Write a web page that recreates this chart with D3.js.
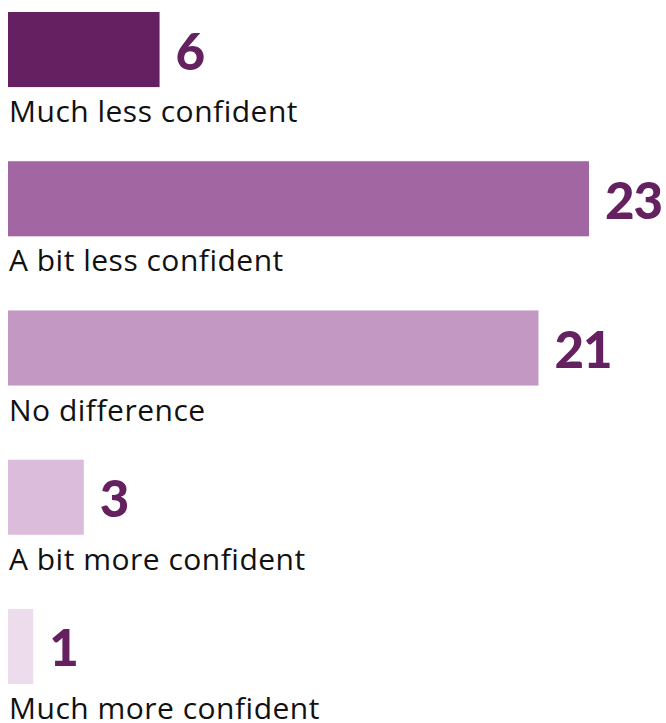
<!doctype html>
<html>
<head>
<meta charset="utf-8">
<style>
  body { margin: 0; background: #fff; }
  svg { display: block; }
</style>
</head>
<body>
<svg></svg>
<script src="https://d3js.org/d3.v7.min.js"></script>
<script>
let categories = ["Much less confident", "A bit less confident", "No difference", "A bit more confident", "Much more confident"];
let values = [6, 23, 21, 3, 1];
let colors = ["#642060", "#a266a2", "#c399c3", "#dbbddb", "#ecdcec"];

let width = 666,
    height = 723;

let svg = d3.select("svg")
    .attr("width", width)
    .attr("height", height);

let x = d3.scaleLinear()
    .domain([0, 23])
    .range([8, 589]);

let y = d3.scaleBand()
    .domain(categories)
    .range([12, 684])
    .paddingInner(0.497);

let data = categories.map((c, i) => ({ cat: c, value: values[i], color: colors[i] }));

let row = svg.selectAll("g.row")
    .data(data)
  .enter()
    .append("g")
    .attr("class", "row");

row.append("rect")
    .attr("x", x(0))
    .attr("y", d => y(d.cat))
    .attr("width", d => x(d.value) - x(0))
    .attr("height", y.bandwidth())
    .attr("fill", d => d.color);

row.append("text")
    .attr("x", d => x(d.value) + 16)
    .attr("y", d => y(d.cat) + y.bandwidth() / 2 + 20)
    .attr("fill", "#64205f")
    .style("font-family", "Lato, sans-serif")
    .style("font-weight", 900)
    .style("font-size", "51px")
    .style("letter-spacing", "-1px")
    .text(d => d.value);

row.append("text")
    .attr("x", 9)
    .attr("y", d => y(d.cat) + y.bandwidth() + 35)
    .attr("fill", "#111")
    .style("font-family", "'Open Sans', sans-serif")
    .style("font-size", "30px")
    .style("letter-spacing", "0.5px")
    .text(d => d.cat);
</script>
</body>
</html>
